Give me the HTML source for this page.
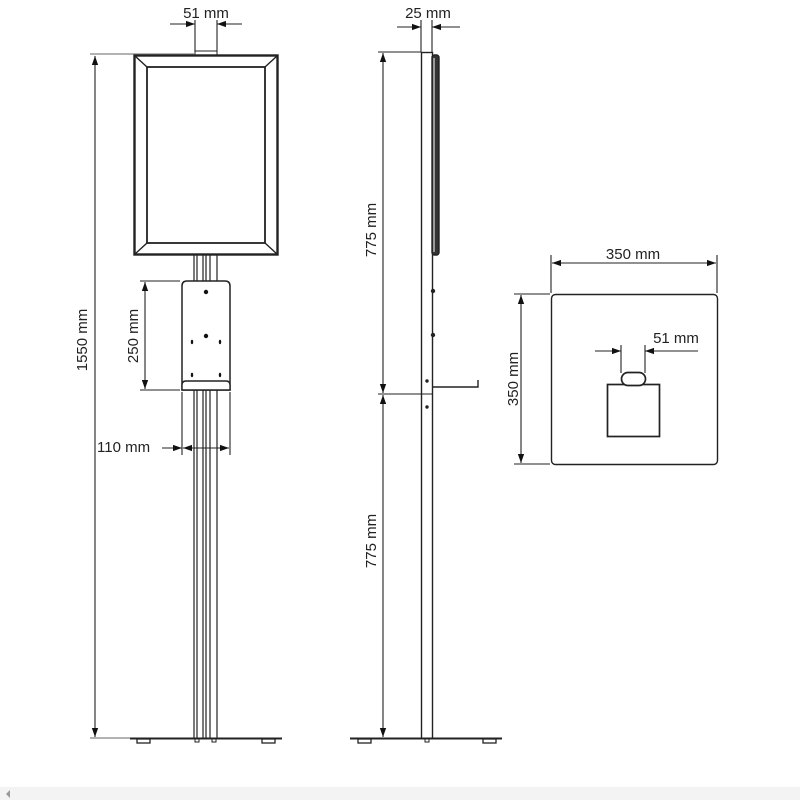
<!DOCTYPE html>
<html><head><style>
html,body{margin:0;padding:0;background:#fff;}
svg{display:block;font-family:"Liberation Sans",sans-serif;}
text{font-size:15px;fill:#222;}
</style></head><body>
<svg width="800" height="800" viewBox="0 0 800 800" xmlns="http://www.w3.org/2000/svg">
<defs>
<marker id="a" viewBox="0 0 10 10" refX="10" refY="5" markerWidth="9" markerHeight="9" orient="auto-start-reverse" markerUnits="userSpaceOnUse"><path d="M0,1.5 L10,5 L0,8.5 Z" fill="#111"/></marker>
</defs>
<g stroke="#222" stroke-width="1.4" fill="none">
<!-- FRONT VIEW -->
<line x1="90" y1="54" x2="194" y2="54" stroke="#999"/>
<rect x="134.5" y="55.5" width="143" height="199" stroke-width="2.4"/>
<rect x="147" y="67" width="118" height="176" stroke-width="1.8"/>
<line x1="135" y1="56" x2="147" y2="67"/><line x1="277" y1="56" x2="265" y2="67"/>
<line x1="135" y1="254" x2="147" y2="243"/><line x1="277" y1="254" x2="265" y2="243"/>
<rect x="195" y="51" width="22" height="4" stroke-width="1"/>
<line x1="195" y1="20" x2="195" y2="52" stroke-width="1.1"/><line x1="217" y1="20" x2="217" y2="52" stroke-width="1.1"/>
<line x1="170" y1="24" x2="195" y2="24" marker-end="url(#a)" stroke-width="1.1"/>
<line x1="242" y1="24" x2="217" y2="24" marker-end="url(#a)" stroke-width="1.1"/>
<!-- pole -->
<g stroke-width="1.2">
<line x1="194" y1="255" x2="194" y2="738"/><line x1="197" y1="255" x2="197" y2="738"/>
<line x1="203" y1="255" x2="203" y2="738"/><line x1="206" y1="255" x2="206" y2="738"/>
<line x1="210" y1="255" x2="210" y2="738"/><line x1="217" y1="255" x2="217" y2="738"/>
</g>
<!-- bracket -->
<path d="M182,390 V286 Q182,281 187,281 H225 Q230,281 230,286 V390 Z" fill="#fff" stroke-width="1.5"/>
<path d="M182,390 V385 Q182,381 186,381 H226 Q230,381 230,385 V390 Z" fill="#fff" stroke-width="1.4"/>
<g fill="#111" stroke="none">
<circle cx="206" cy="292" r="2.2"/><circle cx="206" cy="336" r="2.2"/>
<ellipse cx="192" cy="342" rx="1.2" ry="2.2"/><ellipse cx="220" cy="342" rx="1.2" ry="2.2"/>
<ellipse cx="192" cy="375" rx="1.2" ry="2.2"/><ellipse cx="220" cy="375" rx="1.2" ry="2.2"/>
</g>
<!-- 250 -->
<line x1="140" y1="281" x2="180" y2="281" stroke-width="1.1"/><line x1="140" y1="390" x2="180" y2="390" stroke-width="1.1"/>
<line x1="145" y1="336" x2="145" y2="282" marker-end="url(#a)" stroke-width="1.1"/>
<line x1="145" y1="336" x2="145" y2="389" marker-end="url(#a)" stroke-width="1.1"/>
<!-- 110 -->
<line x1="182" y1="392" x2="182" y2="455" stroke-width="1.1"/><line x1="230" y1="392" x2="230" y2="455" stroke-width="1.1"/>
<line x1="162" y1="448" x2="182" y2="448" marker-end="url(#a)" stroke-width="1.1"/>
<line x1="206" y1="448" x2="183" y2="448" marker-end="url(#a)" stroke-width="1.1"/>
<line x1="206" y1="448" x2="229" y2="448" marker-end="url(#a)" stroke-width="1.1"/>
<!-- 1550 -->
<line x1="90" y1="738" x2="130" y2="738" stroke="#999"/>
<line x1="95" y1="400" x2="95" y2="56" marker-end="url(#a)" stroke-width="1.1"/>
<line x1="95" y1="400" x2="95" y2="737" marker-end="url(#a)" stroke-width="1.1"/>
<!-- base front -->
<line x1="130" y1="738.5" x2="282" y2="738.5" stroke-width="2"/>
<rect x="137" y="739" width="13" height="4" stroke-width="1.3"/><rect x="262" y="739" width="13" height="4" stroke-width="1.3"/>
<rect x="195" y="739" width="4" height="3" stroke-width="1"/><rect x="212" y="739" width="4" height="3" stroke-width="1"/>

<!-- SIDE VIEW -->
<rect x="421.5" y="52.5" width="11" height="686" stroke-width="1.4"/>
<rect x="432" y="55" width="7" height="200" rx="2.5" fill="#333" stroke="#222"/>
<line x1="434" y1="58" x2="434" y2="252" stroke="#fff" stroke-width="1"/>
<circle cx="433" cy="291" r="1.5" fill="#222"/><circle cx="433" cy="335" r="1.5" fill="#222"/>
<circle cx="427" cy="381" r="1" fill="#222"/><circle cx="427" cy="407" r="1" fill="#222"/>
<path d="M432,387 H478 V380" stroke-width="1.4"/>
<line x1="421" y1="20" x2="421" y2="52" stroke-width="1.1"/><line x1="432" y1="20" x2="432" y2="52" stroke-width="1.1"/>
<line x1="397" y1="27" x2="421" y2="27" marker-end="url(#a)" stroke-width="1.1"/>
<line x1="460" y1="27" x2="432" y2="27" marker-end="url(#a)" stroke-width="1.1"/>
<line x1="378" y1="52" x2="421" y2="52" stroke-width="1.1"/>
<line x1="378" y1="394" x2="432" y2="394" stroke-width="1.1"/>
<line x1="383" y1="220" x2="383" y2="53" marker-end="url(#a)" stroke-width="1.1"/>
<line x1="383" y1="220" x2="383" y2="393" marker-end="url(#a)" stroke-width="1.1"/>
<line x1="383" y1="560" x2="383" y2="395" marker-end="url(#a)" stroke-width="1.1"/>
<line x1="383" y1="560" x2="383" y2="737" marker-end="url(#a)" stroke-width="1.1"/>
<line x1="350" y1="738.5" x2="502" y2="738.5" stroke-width="2"/>
<rect x="358" y="739" width="13" height="4" stroke-width="1.3"/><rect x="483" y="739" width="13" height="4" stroke-width="1.3"/>
<rect x="425" y="739" width="4" height="3" stroke-width="1"/>

<!-- TOP VIEW -->
<rect x="551.5" y="294.5" width="166" height="170" rx="4" stroke-width="1.4"/>
<line x1="551" y1="255" x2="551" y2="293" stroke-width="1.1"/><line x1="717" y1="255" x2="717" y2="293" stroke-width="1.1"/>
<line x1="634" y1="263" x2="552" y2="263" marker-end="url(#a)" stroke-width="1.1"/>
<line x1="634" y1="263" x2="716" y2="263" marker-end="url(#a)" stroke-width="1.1"/>
<line x1="514" y1="294" x2="550" y2="294" stroke-width="1.1"/><line x1="514" y1="464" x2="550" y2="464" stroke-width="1.1"/>
<line x1="521" y1="379" x2="521" y2="295" marker-end="url(#a)" stroke-width="1.1"/>
<line x1="521" y1="379" x2="521" y2="463" marker-end="url(#a)" stroke-width="1.1"/>
<rect x="607.5" y="384.5" width="52" height="52" stroke-width="1.7"/>
<rect x="621.5" y="372.5" width="24" height="13" rx="6.5" fill="#fff" stroke-width="1.7"/>
<line x1="621" y1="345" x2="621" y2="373" stroke-width="1.1"/><line x1="645" y1="345" x2="645" y2="373" stroke-width="1.1"/>
<line x1="595" y1="351" x2="621" y2="351" marker-end="url(#a)" stroke-width="1.1"/>
<line x1="698" y1="351" x2="645" y2="351" marker-end="url(#a)" stroke-width="1.1"/>
</g>
<!-- text -->
<text x="206" y="18" text-anchor="middle">51 mm</text>
<text x="428" y="18" text-anchor="middle">25 mm</text>
<text x="633" y="259" text-anchor="middle">350 mm</text>
<text x="676" y="343" text-anchor="middle">51 mm</text>
<text x="97" y="452">110 mm</text>
<text transform="translate(138,336) rotate(-90)" text-anchor="middle">250 mm</text>
<text transform="translate(87,340) rotate(-90)" text-anchor="middle">1550 mm</text>
<text transform="translate(376,230) rotate(-90)" text-anchor="middle">775 mm</text>
<text transform="translate(376,541) rotate(-90)" text-anchor="middle">775 mm</text>
<text transform="translate(518,379) rotate(-90)" text-anchor="middle">350 mm</text>
<rect x="0" y="787" width="800" height="13" fill="#f3f3f3"/>
<path d="M10,790 L10,798 L6,794 Z" fill="#999"/>
</svg>
</body></html>
